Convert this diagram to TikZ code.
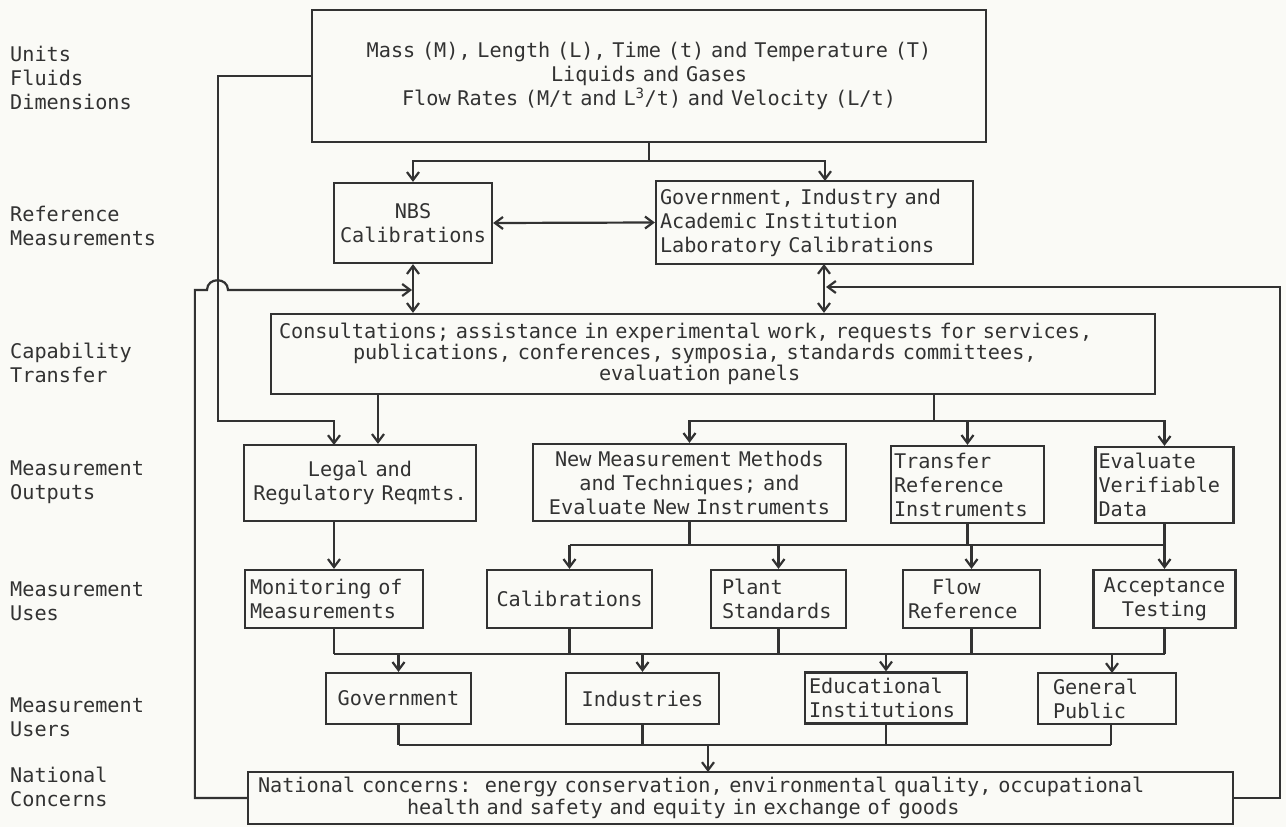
\documentclass[tikz,border=0pt]{standalone}
\usepackage{fontspec}
\newfontfamily\tyfont{DejaVu Sans Mono}
\usetikzlibrary{arrows.meta,calc}
\definecolor{ink}{RGB}{50,50,50}
\definecolor{paper}{RGB}{250,250,246}
\newcommand\tyfs{\tyfont\fontsize{20.2}{24}\selectfont}
\newcommand\tyfscap{\tyfont\fontsize{20.2}{19}\selectfont}
\newcommand\tyfsnat{\tyfont\fontsize{20.2}{22}\selectfont}
\begin{document}
\begin{tikzpicture}[x=1pt,y=-1pt,
  bx/.style={draw=ink, line width=2.3pt, text=ink, inner ysep=0pt, inner xsep=4pt, font=\tyfs},
  lbl/.style={text=ink, inner sep=0pt, font=\tyfs, align=left, anchor=west},
  ln/.style={draw=ink, line width=2.2pt},
  arr/.style={ln, -{Straight Barb[length=8pt,width=12pt]}},
  dbl/.style={ln, {Straight Barb[length=8pt,width=12pt]}-{Straight Barb[length=8pt,width=12pt]}}]
\fill[paper] (0,0) rectangle (1286,827);
\useasboundingbox (0,0) rectangle (1286,827);

% left labels
\node[lbl] (lab1) at (10,78) {Units\\Fluids\\Dimensions};
\node[lbl] (lab2) at (10,225.5) {Reference\\Measurements};
\node[lbl] (lab3) at (10,363) {Capability\\Transfer};
\node[lbl] (lab4) at (10,482.5) {Measurement\\Outputs};
\node[lbl] (lab5) at (10,601.5) {Measurement\\Uses};
\node[lbl] (lab6) at (10,717.5) {Measurement\\Users};
\node[lbl] (lab7) at (10,786.5) {National\\Concerns};

% boxes
\node[bx, text width=666pt, minimum height=132pt, align=center] (top) at (649,76)
  {Mass (M), Length (L), Time (t) and Temperature (T)\\Liquids and Gases\\Flow Rates (M/t and L\textsuperscript{3}/t) and Velocity (L/t)};
\node[bx, text width=150pt, minimum height=80pt, align=center] (nbs) at (413,223) {NBS\\Calibrations};
\node[bx, text width=309pt, minimum height=83pt, align=left] (gov) at (814.5,222.5)
  {Government, Industry and\\Academic Institution\\Laboratory Calibrations};
\node[bx, inner xsep=8pt, text width=868pt, minimum height=80pt, align=left, font=\tyfscap] (cap) at (713,354)
  {Consultations; assistance in experimental work, requests for services,\\
   \hspace*{74pt}publications, conferences, symposia, standards committees,\\
   \hspace*{320pt}evaluation panels};
\node[bx, inner xsep=3pt, text width=226pt, minimum height=76pt, align=center] (legal) at (360,483) {Legal and\\Regulatory Reqmts.};
\node[bx, text width=305pt, minimum height=77pt, align=center] (newm) at (689.5,482.5)
  {New Measurement Methods\\and Techniques; and\\Evaluate New Instruments};
\node[bx, inner xsep=3pt, text width=147pt, minimum height=77pt, align=left] (trans) at (967.5,484.5) {Transfer\\Reference\\Instruments};
\node[bx, inner xsep=3pt, text width=132pt, minimum height=76pt, align=left] (eval) at (1164.5,485) {Evaluate\\Verifiable\\Data};

\node[bx, inner xsep=5pt, text width=168pt, minimum height=58pt, align=left] (mon) at (334,599) {Monitoring of\\Measurements};
\node[bx, text width=157pt, minimum height=58pt, align=center] (cal) at (569.5,599) {Calibrations};
\node[bx, inner xsep=11pt, text width=113pt, minimum height=58pt, align=left] (plant) at (778.5,599) {Plant\\Standards};
\node[bx, inner xsep=5pt, text width=127pt, minimum height=58pt, align=left] (flow) at (971.5,599) {\hspace*{24pt}Flow\\Reference};
\node[bx, text width=134pt, minimum height=58pt, align=center] (acc) at (1164.5,599) {Acceptance\\Testing};

\node[bx, text width=137pt, minimum height=51pt, align=center] (gover) at (398.5,698.5) {Government};
\node[bx, text width=145pt, minimum height=51pt, align=center] (ind) at (642.5,698.5) {Industries};
\node[bx, text width=154pt, minimum height=51pt, align=left] (edu) at (886,698) {Educational\\Institutions};
\node[bx, inner xsep=15pt, text width=108pt, minimum height=51pt, align=left] (pub) at (1107,698.5) {General\\Public};

\node[bx, inner xsep=10pt, text width=965pt, minimum height=52pt, align=left, font=\tyfsnat] (nat) at (740.5,798)
  {National concerns:\ \ energy conservation, environmental quality, occupational\\
   \hspace*{149pt}health and safety and equity in exchange of goods};

% coordinates
\coordinate (jt) at (649,161);
\coordinate (gt) at (825,181);
\coordinate (g1) at (824,264);
\coordinate (hopA) at (207,290);
\coordinate (hopB) at (228,290);
\coordinate (jL) at (412,290);
\coordinate (rc) at (1280,287);
\coordinate (jR) at (826,287);
\coordinate (lc) at (218,421);
\coordinate (lt) at (334,445);
\coordinate (c1) at (378,394);
\coordinate (c2) at (934,394);
\coordinate (jo) at (934,421);
\coordinate (ju) at (700,545);
\coordinate (l2) at (334,521);
\coordinate (jw) at (700,654);
\coordinate (p1) at (1112,673);
\coordinate (p2) at (1111,724);
\coordinate (jn) at (700,745);
\coordinate (n1) at (708,772);

% units -> reference
\draw[ln] (top.south) -- (jt);
\draw[arr] (jt) -| (nbs.north);
\draw[arr] (jt) -| (gt);
\draw[dbl] (nbs.east) -- (gov.west);
\draw[dbl] (nbs.south) -- (nbs.south |- cap.north);
\draw[dbl] (g1) -- (g1 |- cap.north);

% feedback loops
\draw[arr] (nat.west) -- ++(-52,0) |- (hopA) .. controls (207,277) and (228,277) .. (hopB) -- (jL);
\draw[arr] (nat.east) -| (rc) -- (jR);

% units -> legal
\draw[arr] (top.west) -| (lc) -| (lt);

% capability -> outputs
\draw[arr] (c1) -- (c1 |- legal.north);
\draw[ln] (c2) -- (jo);
\draw[arr] (jo) -| (newm.north);
\draw[arr] (jo) -| (trans.north);
\draw[arr] (jo) -| (eval.north);

% outputs -> uses
\draw[arr] (l2) -- (mon.north);
\draw[ln] (newm.south) -- (newm.south |- ju);
\draw[ln] (trans.south) -- (trans.south |- ju);
\draw[ln] (eval.south) -- (eval.south |- ju);
\draw[ln] (cal.north |- ju) -- (acc.north |- ju);
\draw[arr] (cal.north |- ju) -- (cal.north);
\draw[arr] (plant.north |- ju) -- (plant.north);
\draw[arr] (flow.north |- ju) -- (flow.north);
\draw[arr] (acc.north |- ju) -- (acc.north);

% uses -> users
\draw[ln] (mon.south) -- (mon.south |- jw);
\draw[ln] (cal.south) -- (cal.south |- jw);
\draw[ln] (plant.south) -- (plant.south |- jw);
\draw[ln] (flow.south) -- (flow.south |- jw);
\draw[ln] (acc.south) -- (acc.south |- jw);
\draw[ln] (mon.south |- jw) -- (acc.south |- jw);
\draw[arr] (gover.north |- jw) -- (gover.north);
\draw[arr] (ind.north |- jw) -- (ind.north);
\draw[arr] (edu.north |- jw) -- (edu.north);
\draw[arr] (p1 |- jw) -- (p1);

% users -> national
\draw[ln] (gover.south) -- (gover.south |- jn);
\draw[ln] (ind.south) -- (ind.south |- jn);
\draw[ln] (edu.south) -- (edu.south |- jn);
\draw[ln] (p2) -- (p2 |- jn);
\draw[ln] (gover.south |- jn) -- (p2 |- jn);
\draw[arr] (n1 |- jn) -- (n1);
\end{tikzpicture}
\end{document}
